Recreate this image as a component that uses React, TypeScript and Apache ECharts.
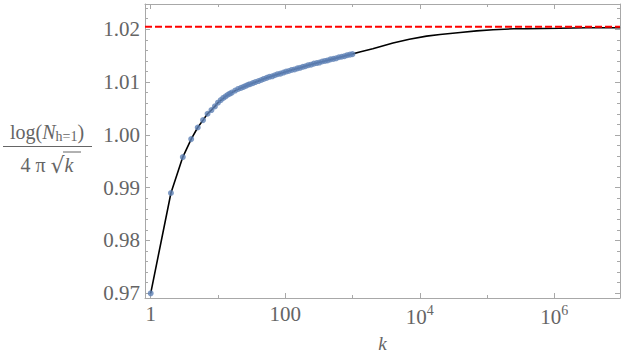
import React, { useEffect, useRef } from "react";
import * as echarts from "echarts";

// Black curve: k and value
const kCurve = [1, 2, 3, 4, 5, 6, 7, 8, 9, 10, 13, 17, 22, 30, 40, 53, 70, 94, 125, 166, 220, 293, 390, 519, 690, 917, 1280, 2000, 4000, 7000, 12600, 20000, 40000, 70000, 123000, 250000, 390000, 1200000, 3000000, 9500000];
const vCurve = [0.97, 0.989, 0.9958, 0.9992, 1.0014, 1.0028, 1.004, 1.0047, 1.0054, 1.0061, 1.0073, 1.0082, 1.0089, 1.0096, 1.0102, 1.0108, 1.0113, 1.0118, 1.0123, 1.0127, 1.0132, 1.0136, 1.014, 1.0144, 1.0148, 1.0152, 1.0157, 1.0163, 1.0174, 1.0181, 1.0187, 1.019, 1.0194, 1.0197, 1.0199, 1.0201, 1.0201, 1.0202, 1.0203, 1.0203];

// Blue points
const kPoints = [1, 2, 3, 4, 5, 6, 7, 8, 9, 10, 11, 12, 13, 14, 15, 16, 18, 20, 22, 24, 26, 28, 30, 33, 36, 40, 44, 48, 53, 58, 64, 70, 77, 85, 94, 103, 113, 125, 138, 152, 166, 183, 200, 220, 242, 266, 293, 322, 354, 390, 428, 470, 519, 570, 627, 690, 760, 835, 917, 1000];
const vPoints = [0.97, 0.989, 0.9958, 0.9992, 1.0014, 1.0028, 1.004, 1.0047, 1.0054, 1.0061, 1.0066, 1.007, 1.0073, 1.0076, 1.0078, 1.008, 1.0084, 1.0087, 1.0089, 1.0091, 1.0093, 1.0095, 1.0096, 1.0098, 1.01, 1.0102, 1.0104, 1.0106, 1.0108, 1.011, 1.0111, 1.0113, 1.0115, 1.0116, 1.0118, 1.012, 1.0121, 1.0123, 1.0124, 1.0126, 1.0127, 1.0129, 1.013, 1.0132, 1.0133, 1.0135, 1.0136, 1.0137, 1.0139, 1.014, 1.0141, 1.0143, 1.0144, 1.0145, 1.0147, 1.0148, 1.0149, 1.0151, 1.0152, 1.0153];

const asymptote = 1.0205;

const xLabelValues = [1, 100, 10000, 1000000];
const xMinorValues = [10, 1000, 100000];
const yLabelValues = [0.97, 0.98, 0.99, 1.0, 1.01, 1.02];
const yMinorValues = [0.972, 0.974, 0.976, 0.978, 0.982, 0.984, 0.986, 0.988, 0.992, 0.994, 0.996, 0.998, 1.002, 1.004, 1.006, 1.008, 1.012, 1.014, 1.016, 1.018, 1.022, 1.024];

const X_MIN = 0.8229;
const X_MAX = 9470000;
const Y_MIN = 0.96911;
const Y_MAX = 1.02479;

const FONT = "Liberation Serif";
const TEXT = "#656565";
const FRAME = "#a8a8a8";

export default function App() {
  const ref = useRef<HTMLDivElement>(null);
  useEffect(() => {
    if (!ref.current) return;
    const chart = echarts.init(ref.current, undefined, { renderer: "svg" });
    const gridPos = { left: 145, right: 3, top: 4, bottom: 60 };
    const xFmt = (v: number) => {
      if (v < 1.5) return "1";
      if (v < 150) return "100";
      return "{b|10}{s|" + Math.round(Math.log10(v)) + "}";
    };
    const baseX = {
      type: "log" as const,
      min: X_MIN,
      max: X_MAX,
      splitLine: { show: false },
      minorTick: { show: false },
      minorSplitLine: { show: false },
    };
    const baseY = {
      type: "value" as const,
      min: Y_MIN,
      max: Y_MAX,
      splitLine: { show: false },
      minorTick: { show: false },
    };
    chart.setOption({
      animation: false,
      grid: [
        { ...gridPos, containLabel: false },
        { ...gridPos, containLabel: false },
      ],
      xAxis: [
        {
          ...baseX,
          gridIndex: 0,
          position: "bottom",
          axisLine: { show: true, lineStyle: { color: FRAME, width: 1 } },
          axisTick: { show: true, inside: true, length: 5, customValues: xLabelValues, lineStyle: { color: FRAME } },
          axisLabel: {
            show: true,
            customValues: xLabelValues,
            formatter: xFmt,
            color: TEXT,
            fontFamily: FONT,
            fontSize: 21,
            margin: 5,
            rich: {
              b: { fontFamily: FONT, fontSize: 21, color: TEXT },
              s: { fontFamily: FONT, fontSize: 14, color: TEXT, padding: [0, 0, 14, 0] },
            },
          },
          name: "k",
          nameLocation: "middle",
          nameGap: 36,
          nameTextStyle: { fontFamily: FONT, fontSize: 19, fontStyle: "italic", color: TEXT },
        },
        {
          ...baseX,
          gridIndex: 0,
          position: "top",
          axisLine: { show: true, lineStyle: { color: FRAME, width: 1 } },
          axisTick: { show: true, inside: true, length: 5, customValues: xLabelValues, lineStyle: { color: FRAME } },
          axisLabel: { show: false },
        },
        {
          ...baseX,
          gridIndex: 1,
          position: "bottom",
          axisLine: { show: false },
          axisTick: { show: true, inside: true, length: 3, customValues: xMinorValues, lineStyle: { color: FRAME } },
          axisLabel: { show: false },
        },
        {
          ...baseX,
          gridIndex: 1,
          position: "top",
          axisLine: { show: false },
          axisTick: { show: true, inside: true, length: 3, customValues: xMinorValues, lineStyle: { color: FRAME } },
          axisLabel: { show: false },
        },
      ],
      yAxis: [
        {
          ...baseY,
          gridIndex: 0,
          position: "left",
          axisLine: { show: true, lineStyle: { color: FRAME, width: 1 } },
          axisTick: { show: true, inside: true, length: 5, customValues: yLabelValues, lineStyle: { color: FRAME } },
          axisLabel: {
            show: true,
            customValues: yLabelValues,
            formatter: (v: number) => v.toFixed(2),
            color: TEXT,
            fontFamily: FONT,
            fontSize: 21,
            margin: 5,
          },
        },
        {
          ...baseY,
          gridIndex: 0,
          position: "right",
          axisLine: { show: true, lineStyle: { color: FRAME, width: 1 } },
          axisTick: { show: true, inside: true, length: 5, customValues: yLabelValues, lineStyle: { color: FRAME } },
          axisLabel: { show: false },
        },
        {
          ...baseY,
          gridIndex: 1,
          position: "left",
          axisLine: { show: false },
          axisTick: { show: true, inside: true, length: 3, customValues: yMinorValues, lineStyle: { color: FRAME } },
          axisLabel: { show: false },
        },
        {
          ...baseY,
          gridIndex: 1,
          position: "right",
          axisLine: { show: false },
          axisTick: { show: true, inside: true, length: 3, customValues: yMinorValues, lineStyle: { color: FRAME } },
          axisLabel: { show: false },
        },
      ],
      series: [
        {
          type: "line",
          xAxisIndex: 0,
          yAxisIndex: 0,
          data: [
            [X_MIN, asymptote],
            [X_MAX, asymptote],
          ],
          showSymbol: false,
          symbol: "none",
          lineStyle: { color: "#ff0000", width: 2, type: [7, 3] },
          z: 4,
          silent: true,
        },
        {
          type: "line",
          xAxisIndex: 0,
          yAxisIndex: 0,
          data: kCurve.map((k, i) => [k, vCurve[i]]),
          showSymbol: false,
          symbol: "none",
          lineStyle: { color: "#000000", width: 1.6 },
          z: 2,
          silent: true,
        },
        {
          type: "scatter",
          xAxisIndex: 0,
          yAxisIndex: 0,
          data: kPoints.map((k, i) => [k, vPoints[i]]),
          symbolSize: 6,
          itemStyle: { color: "#5E81B5" },
          z: 3,
          silent: true,
        },
      ],
      graphic: [
        {
          type: "text",
          x: 47,
          y: 132,
          style: {
            text: "{n|log(}{i|N}{s|h=1}{n|)}",
            align: "center",
            verticalAlign: "middle",
            fill: TEXT,
            rich: {
              n: { fontFamily: FONT, fontSize: 20, fill: TEXT },
              i: { fontFamily: FONT, fontSize: 20, fontStyle: "italic", fill: TEXT },
              s: { fontFamily: FONT, fontSize: 14, fill: TEXT, padding: [9, 0, 0, 0] },
            },
          },
        },
        {
          type: "line",
          shape: { x1: 3, y1: 146.5, x2: 92, y2: 146.5 },
          style: { stroke: TEXT, lineWidth: 1.2 },
        },
        {
          type: "text",
          x: 47,
          y: 165,
          style: {
            text: "{n|4 π }{r|√}{i|k}",
            align: "center",
            verticalAlign: "middle",
            fill: TEXT,
            rich: {
              n: { fontFamily: FONT, fontSize: 20, fill: TEXT },
              r: { fontFamily: "DejaVu Serif", fontSize: 22, fill: TEXT },
              i: { fontFamily: FONT, fontSize: 20, fontStyle: "italic", fill: TEXT },
            },
          },
        },
        {
          type: "line",
          shape: { x1: 63, y1: 152, x2: 81, y2: 152 },
          style: { stroke: TEXT, lineWidth: 1 },
        },
      ],
    });
    return () => chart.dispose();
  }, []);
  return (
    <div
      ref={ref}
      style={{ position: "fixed", left: 0, top: 0, width: 623, height: 358, background: "#ffffff" }}
    />
  );
}
